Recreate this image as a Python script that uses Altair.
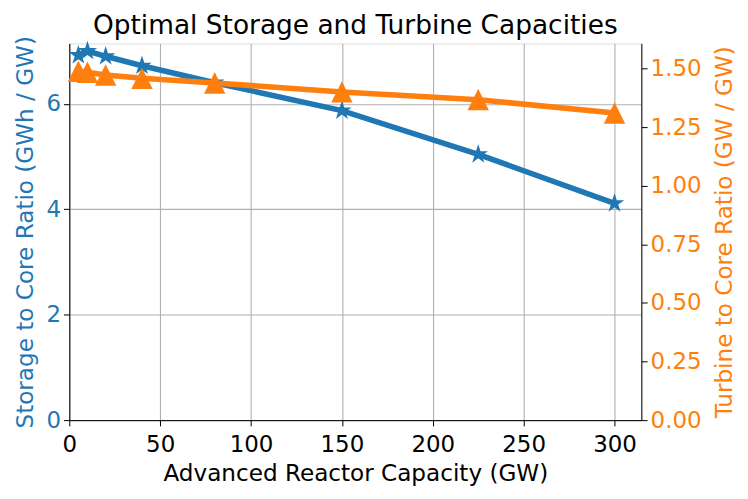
import math
import altair as alt
import pandas as pd

capacity = [5, 10, 20, 40, 80, 150, 225, 300]
storage_ratio = [6.92, 7.00, 6.90, 6.72, 6.40, 5.87, 5.04, 4.11]
turbine_ratio = [1.488, 1.484, 1.472, 1.458, 1.438, 1.400, 1.367, 1.310]

x_ticks = [0, 50, 100, 150, 200, 250, 300]
left_ticks = [0, 2, 4, 6]
right_ticks = [0, 0.25, 0.5, 0.75, 1.0, 1.25, 1.5]

df = pd.DataFrame({"capacity": capacity, "storage": storage_ratio, "turbine": turbine_ratio})

BLUE = "#1f77b4"
ORANGE = "#ff7f0e"
FONT = "DejaVu Sans"
LFS = 23      # tick label size
TFS = 23.2    # axis title size

# marker shapes (unit square paths)
pts = []
for k in range(10):
    r = 1.0 if k % 2 == 0 else 0.381966
    a = math.radians(90 + 36 * k)
    pts.append((r * math.cos(a), -r * math.sin(a)))
STAR = "M" + "L".join(f"{px:.4f},{py:.4f}" for px, py in pts) + "Z"
TRI = "M0,-1L-1,1L1,1Z"

common = dict(
    domainColor="black", tickColor="black", tickSize=5.8,
    labelFontSize=LFS, titleFontSize=TFS, labelFont=FONT, titleFont=FONT,
    titleFontWeight="normal", labelFlush=False,
)

x_enc = alt.X(
    "capacity:Q",
    title="Advanced Reactor Capacity (GW)",
    scale=alt.Scale(domain=[0, 314.75], nice=False, zero=False),
    axis=alt.Axis(
        values=x_ticks, grid=True, gridColor="#b0b0b0", gridWidth=1.1,
        labelColor="black", titleColor="black",
        labelBaseline="alphabetic", labelPadding=25.5,
        titleBaseline="alphabetic", titleY=60.7,
        **common,
    ),
)

left = alt.Chart(df).mark_line(
    color=BLUE, strokeWidth=5.6,
    point=alt.OverlayMarkDef(shape=STAR, size=420, filled=True, color=BLUE, opacity=1),
).encode(
    x=x_enc,
    y=alt.Y(
        "storage:Q",
        scale=alt.Scale(domain=[0, 7.145], nice=False),
        axis=alt.Axis(
            values=left_ticks, orient="left", grid=True, gridColor="#b0b0b0", gridWidth=1.1,
            title="Storage to Core Ratio (GWh / GW)", titleColor=BLUE, labelColor=BLUE,
            labelPadding=3, titleAngle=-90, titleBaseline="alphabetic",
            titleX=-36.5, titleY=189, titleAlign="center",
            **common,
        ),
    ),
)

right = alt.Chart(df).mark_line(
    color=ORANGE, strokeWidth=5.6,
    point=alt.OverlayMarkDef(shape=TRI, size=460, filled=True, color=ORANGE, opacity=1),
).encode(
    x=x_enc,
    y=alt.Y(
        "turbine:Q",
        scale=alt.Scale(domain=[0, 1.607], nice=False),
        axis=alt.Axis(
            values=right_ticks, orient="right", grid=False, format=".2f",
            title="Turbine to Core Ratio (GW / GW)", titleColor=ORANGE, labelColor=ORANGE,
            labelPadding=3, titleAngle=-90, titleBaseline="alphabetic",
            titleX=90, titleY=189, titleAlign="center",
            **common,
        ),
    ),
)

chart = alt.layer(left, right).resolve_scale(y="independent").properties(
    width=574,
    height=378,
    title=alt.TitleParams(
        "Optimal Storage and Turbine Capacities",
        font=FONT, fontSize=26.5, fontWeight="normal", color="black",
        anchor="middle", offset=6, dy=9.5,
    ),
    autosize=alt.AutoSizeParams(type="none"),
    padding={"left": 61.5, "top": 34.7, "right": 99, "bottom": 72},
).configure_view(stroke="black", strokeWidth=1.2).configure(background="white")

chart.save("out.html", embed_options={"renderer": "svg", "actions": False})
